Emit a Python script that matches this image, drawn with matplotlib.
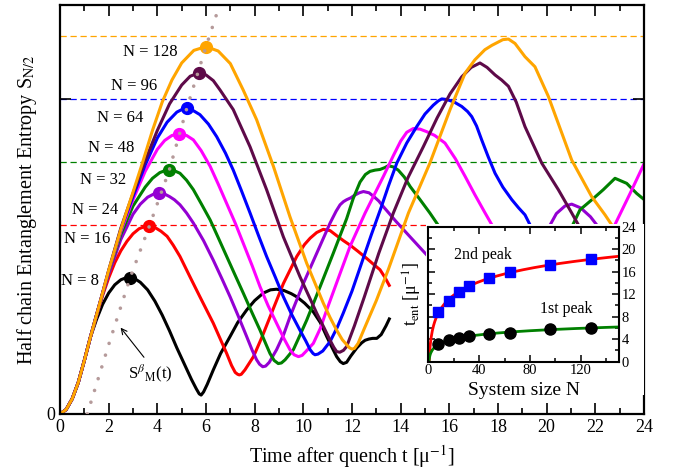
import numpy as np
import matplotlib
matplotlib.use("Agg")
import matplotlib.pyplot as plt
from matplotlib.patches import Rectangle
from matplotlib.ticker import MultipleLocator

plt.rcParams["font.family"] = ["Liberation Serif", "DejaVu Serif"]
plt.rcParams["mathtext.fontset"] = "stix"

gap = np.nan

# shared early-time growth, identical for every system size
rise_t = [0.0, 0.25, 0.5, 0.75, 1.0, 1.25]
rise_s = [0.0, 0.07, 0.24, 0.50, 0.85, 1.22]

# S_{N/2}(t) after the shared part, one pair of lists per N
t_n8 = [1.5, 1.75, 2.0, 2.25, 2.5, 2.7, 2.88, 3.1, 3.3, 3.6, 3.9, 4.2, 4.5, 4.8, 5.1, 5.4,
        5.6, 5.72, 5.8, 5.9, 6.05, 6.3, 6.6, 6.99, 7.3, 7.67, 8.0, 8.36, 8.65, 8.9, 9.2,
        9.5, 9.73, 10.05, 10.41, 10.7, 10.96, 11.2, 11.37, 11.52, 11.64, 11.78, 11.95,
        12.2, 12.4, 12.54, 12.7, 12.85, 13.02, 13.2, 13.4, 13.56]
s_n8 = [1.50, 1.74, 1.92, 2.05, 2.13, 2.16, 2.16, 2.14, 2.09, 1.97, 1.79, 1.57, 1.32, 1.05, 0.80, 0.55,
        0.40, 0.32, 0.30, 0.35, 0.47, 0.70, 0.96, 1.23, 1.45, 1.65, 1.80, 1.92, 1.97, 1.98, 1.96,
        1.91, 1.86, 1.76, 1.62, 1.45, 1.23, 1.04, 0.91, 0.83, 0.80, 0.82, 0.92,
        1.05, 1.13, 1.17, 1.19, 1.20, 1.20, 1.26, 1.40, 1.53]

t_n16 = [1.5, 1.75, 2.0, 2.25, 2.5, 2.75, 3.0, 3.25, 3.45, 3.67, 3.9, 4.15, 4.4, 4.65, 4.93,
         5.35, 5.75, 6.3, 6.85, 7.05, 7.2, 7.3, 7.37, 7.45, 7.6, 7.95, 8.3, 8.63, 9.18, 9.73,
         10.05, 10.28, 10.55, 10.82, 11.1, 11.37, 11.65, 11.92, 12.25, 12.6, 12.9, 13.15,
         13.35, 13.56]
s_n16 = [1.56, 1.88, 2.16, 2.40, 2.59, 2.74, 2.86, 2.94, 2.97, 2.98, 2.96, 2.90, 2.82, 2.68, 2.50,
         2.17, 1.86, 1.44, 0.96, 0.77, 0.66, 0.63, 0.62, 0.63, 0.70, 0.91, 1.22, 1.54, 2.07, 2.50,
         2.69, 2.79, 2.88, 2.93, 2.91, 2.83, 2.75, 2.68, 2.58, 2.47, 2.37, 2.29,
         2.17, 2.02]

t_n24 = [1.5, 1.75, 2.0, 2.5, 3.0, 3.3, 3.6, 3.85, 4.08, 4.3, 4.5, 4.7, 4.93, 5.2, 5.48, 5.9,
         6.3, 6.65, 6.99, 7.33, 7.67, 7.9, 8.08, 8.2, 8.33, 8.45, 8.6, 8.9, 9.2, 9.45, 10.0,
         10.55, 11.1, 11.35, 11.51, 11.65, 11.78, 11.95, 12.1, 12.3, 12.47, 12.7, 12.9, 13.1,
         13.29, 13.8, 14.39, 15.2, gap, 20.0, 20.4, 20.75, 21.03, 21.4, 21.8, 22.1, 22.2]
s_n24 = [1.57, 1.90, 2.22, 2.77, 3.17, 3.33, 3.44, 3.49, 3.50, 3.49, 3.45, 3.40, 3.32, 3.19, 3.03, 2.75,
         2.44, 2.15, 1.86, 1.55, 1.23, 1.01, 0.86, 0.79, 0.75, 0.76, 0.82, 1.02, 1.27, 1.54, 2.07,
         2.55, 3.03, 3.22, 3.32, 3.37, 3.40, 3.43, 3.47, 3.51, 3.53, 3.51, 3.45, 3.38,
         3.29, 3.06, 2.81, 2.47, gap, 2.90, 3.18, 3.30, 3.33, 3.27, 3.13, 2.98, 2.90]

t_n32 = [1.5, 1.75, 2.0, 2.5, 3.0, 3.5, 3.8, 4.1, 4.3, 4.49, 4.7, 4.93, 5.2, 5.48, 5.8, 6.17,
         6.5, 6.85, 7.2, 7.53, 7.9, 8.22, 8.45, 8.63, 8.8, 8.97, 9.1, 9.25, 9.4, 9.59, 9.85,
         10.14, 10.69, 11.23, 11.78, 12.05, 12.33, 12.55, 12.74, 12.95, 13.15, 13.35, 13.49,
         13.7, 13.9, 14.15, 14.39, 14.8, 15.2, 15.8,
         gap, 20.95, 21.37, 21.92, 22.33, 22.81, 23.29, 23.7, 24.11]
s_n32 = [1.57, 1.91, 2.25, 2.85, 3.30, 3.60, 3.74, 3.83, 3.86, 3.87, 3.86, 3.82, 3.71, 3.56, 3.34, 3.08,
         2.80, 2.50, 2.20, 1.92, 1.60, 1.33, 1.12, 0.96, 0.85, 0.80, 0.81, 0.86, 0.93, 1.02, 1.24,
         1.49, 2.02, 2.55, 3.10, 3.42, 3.68, 3.80, 3.85, 3.87, 3.88, 3.91, 3.94,
         3.92, 3.87, 3.76, 3.61, 3.40, 3.19, 2.85,
         gap, 2.90, 3.24, 3.42, 3.56, 3.74, 3.66, 3.50, 3.37]

t_n48 = [1.5, 1.75, 2.0, 2.5, 3.0, 3.5, 4.0, 4.3, 4.6, 4.9, 5.2, 5.48, 5.8, 6.17, 6.5, 6.85,
         7.2, 7.53, 7.9, 8.22, 8.55, 8.9, 9.2, 9.45, 9.62, 9.8, 9.95, 10.1, 10.41, 10.7, 10.96,
         11.51, 11.92, 12.54, 13.29, 13.7, 14.0, 14.25, 14.52, 14.8, 15.07, 15.4, 15.82, 16.25,
         16.65, 17.05, 17.47, 17.9, gap, 22.7, 23.43, 24.04]
s_n48 = [1.57, 1.92, 2.26, 2.90, 3.40, 3.85, 4.20, 4.34, 4.42, 4.44, 4.42, 4.35, 4.18, 3.93, 3.65, 3.34,
         3.03, 2.71, 2.35, 2.02, 1.72, 1.44, 1.20, 1.02, 0.94, 0.91, 0.93, 0.99, 1.12, 1.36, 1.65,
         2.23, 2.66, 3.19, 3.77, 4.10, 4.33, 4.47, 4.53, 4.52, 4.48, 4.42, 4.30, 4.05,
         3.77, 3.48, 3.19, 2.90, gap, 2.92, 3.50, 4.00]

t_n64 = [1.5, 1.75, 2.0, 2.5, 3.0, 3.5, 4.0, 4.4, 4.8, 5.0, 5.21, 5.45, 5.75, 6.1, 6.44, 6.8,
         7.12, 7.45, 7.81, 8.15, 8.49, 8.85, 9.18, 9.52, 9.86, 10.1, 10.28, 10.4, 10.48, 10.6,
         10.8, 11.1, 11.4, 11.64, 12.0, 12.4, 12.8, 13.2, 13.5, 13.84, 14.25, 14.66, 15.0,
         15.34, 15.55, 15.69, 15.9, 16.2, 16.51, 16.75, 16.92, 17.12, 17.33, 17.6, 17.88,
         18.2, 18.57, 18.85, 19.11, 19.45]
s_n64 = [1.57, 1.92, 2.27, 2.93, 3.45, 3.95, 4.38, 4.63, 4.79, 4.83, 4.85, 4.82, 4.75, 4.60, 4.40, 4.14,
         3.87, 3.55, 3.19, 2.84, 2.50, 2.17, 1.86, 1.58, 1.33, 1.16, 1.02, 0.96, 0.94, 0.95,
         1.00, 1.15, 1.38, 1.60, 1.95, 2.40, 2.85, 3.28, 3.62, 3.98, 4.30, 4.56, 4.76,
         4.90, 4.97, 5.00, 4.99, 4.95, 4.88, 4.80, 4.72, 4.57, 4.35, 4.08, 3.82,
         3.60, 3.40, 3.27, 3.16, 2.90]

t_n96 = [1.5, 1.75, 2.0, 2.5, 3.0, 3.5, 4.0, 4.5, 5.0, 5.35, 5.7, 6.0, 6.3, 6.58, 7.12, 7.81,
         8.49, 9.18, 9.86, 10.55, 10.85, 11.1, 11.25, 11.37, 11.5, 11.65, 11.78, 12.1, 12.5,
         13.1, 13.7, 14.3, 14.93, 15.5, 16.03, 16.51, 16.9, 17.26, 17.55, 17.88, 18.15, 18.43,
         18.75, 19.11, 19.8, 20.48, 21.03, 21.45]
s_n96 = [1.57, 1.92, 2.28, 2.95, 3.50, 4.02, 4.50, 4.92, 5.22, 5.36, 5.41, 5.38, 5.29, 5.14, 4.83, 4.24,
         3.56, 2.81, 2.18, 1.60, 1.37, 1.17, 1.06, 0.99, 0.98, 1.01, 1.07, 1.40, 1.85,
         2.55, 3.19, 3.75, 4.24, 4.70, 5.08, 5.35, 5.50, 5.57, 5.50, 5.38, 5.30, 5.20,
         4.95, 4.56, 3.98, 3.56, 3.19, 2.90]

t_n128 = [1.5, 1.75, 2.0, 2.5, 3.0, 3.4, 3.8, 4.2, 4.6, 5.0, 5.5, 6.0, 6.5, 7.0, 7.53, 8.08,
          8.77, 9.45, 10.14, 10.82, 11.1, 11.37, 11.6, 11.78, 11.9, 12.0, 12.1, 12.25, 12.5,
          13.0, 13.5, 14.32, 15.2, 16.03, 16.65, 17.05, 17.46, 17.75, 18.0, 18.2, 18.43, 18.7,
          19.11, 19.52, 20.07, 21.03, 21.85, 22.4, 22.85]
s_n128 = [1.57, 1.92, 2.28, 2.93, 3.52, 4.00, 4.50, 4.95, 5.30, 5.57, 5.77, 5.83, 5.76, 5.56, 5.14, 4.67,
          3.93, 3.13, 2.39, 1.76, 1.53, 1.33, 1.18, 1.10, 1.05, 1.03, 1.04, 1.12, 1.35,
          1.80, 2.30, 3.19, 3.98, 4.83, 5.41, 5.62, 5.78, 5.85, 5.90, 5.94, 5.95, 5.88,
          5.67, 5.51, 5.04, 4.03, 3.45, 3.16, 2.90]

sizes = [8, 16, 24, 32, 48, 64, 96, 128]
peak_t = [2.88, 3.67, 4.08, 4.49, 4.9, 5.21, 5.7, 6.0]
peak_s = [2.16, 2.98, 3.50, 3.87, 4.44, 4.85, 5.41, 5.83]

# saturation levels (dashed guides) for N = 16, 32, 64, 128
sat_level = [3.0, 4.0, 5.0, 6.0]

# S^beta_M(t) guide curve
sm_t = [1.12, 2.0, 2.88, 3.67, 4.49, 5.21, 6.0, 6.5]
sm_s = [0.0, 1.1, 2.16, 2.98, 3.87, 4.85, 5.83, 6.42]

# inset: entanglement times of the first and second peak
inset_n = [8, 16, 24, 32, 48, 64, 96, 128]
t_first = [3.1, 3.85, 4.15, 4.55, 4.9, 5.15, 5.8, 6.05]
t_second = [8.9, 10.8, 12.4, 13.5, 14.8, 15.9, 17.25, 18.2]

colors = ["black", "#ff0000", "#9400d3", "#008000", "#ff00ff", "#0000ff", "#5e0a49", "#ffa500"]
sat_colors = ["#ff0000", "#008000", "#0000ff", "#ffa500"]
curves_t = [t_n8, t_n16, t_n24, t_n32, t_n48, t_n64, t_n96, t_n128]
curves_s = [s_n8, s_n16, s_n24, s_n32, s_n48, s_n64, s_n96, s_n128]

fig = plt.figure(figsize=(6.79, 4.72), dpi=100)
ax = fig.add_axes([0.0884, 0.1229, 0.860, 0.8665])

for level, c in zip(sat_level, sat_colors):
    ax.axhline(level, color=c, lw=0.9, ls=(0, (5, 3)), zorder=1)

for t, s, c in zip(curves_t, curves_s, colors):
    ax.plot(rise_t + t, rise_s + s, color=c, lw=2.2, zorder=2,
            solid_joinstyle="round", solid_capstyle="butt")

for pt, ps, c in zip(peak_t, peak_s, colors):
    ax.plot(pt, ps, "o", color=c, ms=8.5, zorder=3)

ax.plot(sm_t, sm_s, color="#b59a9a", lw=2.6, ls=(0, (0.01, 3.4)),
        dash_capstyle="round", zorder=4)

# size labels next to the first maxima
label_xy = [(0.82, 2.11), (1.10, 2.77), (1.43, 3.24), (1.78, 3.71),
            (2.12, 4.22), (2.47, 4.69), (3.06, 5.20), (3.72, 5.75)]
for n, (lx, ly) in zip(sizes, label_xy):
    ax.text(lx, ly, f"N = {n}", fontsize=12, ha="center", va="center", zorder=5)

ax.annotate("", xy=(2.49, 1.37), xytext=(3.45, 0.90),
            arrowprops=dict(arrowstyle="->", lw=0.8, color="black", shrinkA=0, shrinkB=0))
ax.text(3.73, 0.63, r"S$^{\beta}$$_{\mathrm{M}}$(t)", fontsize=12, ha="center", va="center")

# blank area behind the inset and its tick labels
ax.add_patch(Rectangle((15.05, 0.3), 8.95, 2.72, facecolor="white", edgecolor="none", zorder=6))

ax.set_xlim(0, 24)
ax.set_ylim(0, 6.49)
ax.xaxis.set_major_locator(MultipleLocator(2))
ax.xaxis.set_minor_locator(MultipleLocator(1))
ax.set_yticks([0, 5])
ax.set_yticklabels(["0", ""])
ax.tick_params(which="both", direction="in", top=True, right=True, labelsize=13, width=1.2)
ax.tick_params(which="major", length=8)
ax.tick_params(which="minor", length=4)
for sp in ax.spines.values():
    sp.set_linewidth(1.6)
ax.set_xlabel(r"Time after quench t [μ$^{-1}$]", fontsize=14.5, labelpad=5)
ax.set_ylabel(r"Half chain Entanglement Entropy S$_{\mathrm{N/2}}$", fontsize=14.5, labelpad=5)

# inset
axi = fig.add_axes([0.6308, 0.2337, 0.2809, 0.286])
nn = np.array(inset_n, dtype=float)
for tv, c in [(t_second, "#ff0000"), (t_first, "#008000")]:
    a, b = np.polyfit(np.log(nn), tv, 1)
    grid = np.linspace(np.exp(-b / a), 150, 300)
    axi.plot(grid, a * np.log(grid) + b, color=c, lw=2, zorder=2)
axi.plot(inset_n, t_second, "s", color="#0000ff", ms=7, zorder=3)
axi.plot(inset_n, t_first, "o", color="black", ms=8, zorder=3)
axi.text(43, 19, "2nd peak", fontsize=11.5, ha="center", va="center")
axi.text(108.5, 9.4, "1st peak", fontsize=11.5, ha="center", va="center")
axi.set_xlim(0, 150)
axi.set_ylim(0, 24)
axi.xaxis.set_major_locator(MultipleLocator(40))
axi.xaxis.set_minor_locator(MultipleLocator(20))
axi.yaxis.set_major_locator(MultipleLocator(4))
axi.yaxis.set_minor_locator(MultipleLocator(2))
axi.tick_params(which="both", direction="in", top=True, right=True, labelleft=False,
                labelright=True, labelsize=10.5, pad=2, width=1.1)
axi.tick_params(which="major", length=5)
axi.tick_params(which="minor", length=3)
for sp in axi.spines.values():
    sp.set_linewidth(1.5)
axi.yaxis.set_label_position("left")
axi.set_xlabel("System size N", fontsize=14, labelpad=3)
axi.set_ylabel(r"t$_{\mathrm{ent}}$ [μ$^{-1}$]", fontsize=13, labelpad=3)

fig.savefig("out.png", dpi=100)
